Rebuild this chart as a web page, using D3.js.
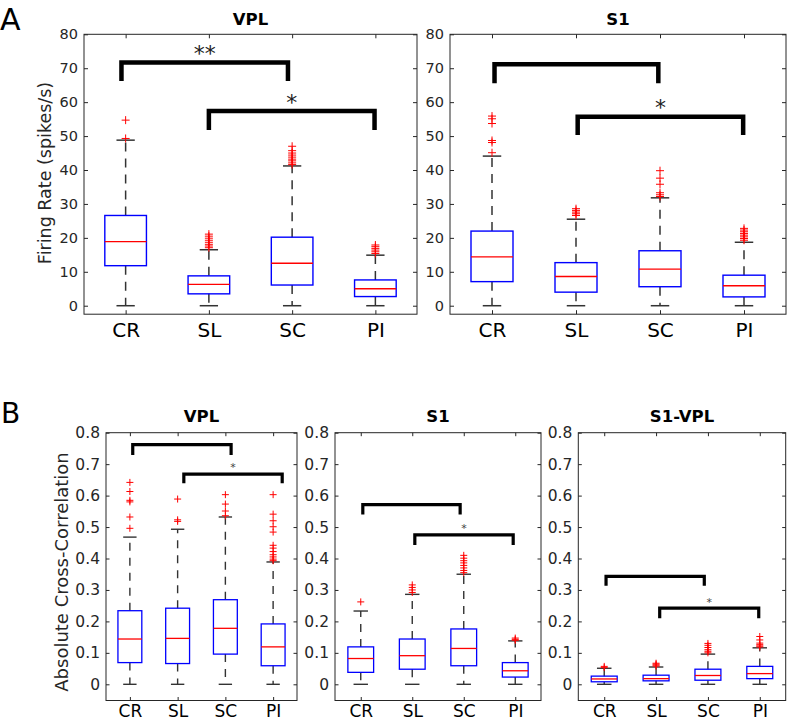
<!DOCTYPE html>
<html><head><meta charset="utf-8">
<script src="https://cdn.jsdelivr.net/npm/d3@7"></script>
<style>
body{margin:0;background:#fff}
svg{display:block}
text{font-family:"DejaVu Sans","Liberation Sans",Arial,sans-serif}
</style>
</head><body>
<svg id="c" width="787" height="720"></svg>
<script>
// ---------------- DATA ----------------
const categories = ["CR", "SL", "SC", "PI"];
const firingTicks = [0, 10, 20, 30, 40, 50, 60, 70, 80];
const corrTicks = [0, 0.1, 0.2, 0.3, 0.4, 0.5, 0.6, 0.7, 0.8];

// Panel A – VPL firing rate (spikes/s)
const aVplLow = [0, 0, 0, 0];
const aVplQ1 = [11.8, 3.5, 6.1, 2.7];
const aVplMedian = [18.9, 6.3, 12.5, 5.0];
const aVplQ3 = [26.6, 8.8, 20.2, 7.6];
const aVplHigh = [48.8, 16.5, 41.2, 14.9];
const aVplOutliers = [
  [49.3, 54.7],
  [17.1, 17.6, 18.1, 18.7, 19.3, 19.9, 20.5, 21.1],
  [41.6, 42.1, 42.7, 43.2, 43.8, 44.4, 45.0, 45.7, 47.0],
  [15.4, 15.9, 16.4, 16.9, 17.4, 17.9]
];
const aVplBrackets = [
  {from: 0.95, to: 2.95, top: 71.7, foot: 66.2, label: "**", labelAt: 75.4},
  {from: 2.0, to: 3.99, top: 57.4, foot: 51.8, label: "*", labelAt: 61.0}
];

// Panel A – S1 firing rate (spikes/s)
const aS1Low = [0, 0, 0, 0];
const aS1Q1 = [7.1, 4.0, 5.6, 2.6];
const aS1Median = [14.4, 8.6, 10.8, 5.9];
const aS1Q3 = [22.0, 12.7, 16.2, 9.0];
const aS1High = [44.1, 25.5, 31.8, 18.7];
const aS1Outliers = [
  [45.1, 48.1, 48.7, 53.7, 55.1, 55.9],
  [26.6, 27.1, 27.6, 28.1, 28.6],
  [32.2, 32.7, 33.3, 35.8, 37.6, 39.8],
  [19.3, 19.8, 20.3, 20.8, 21.3, 21.8, 22.3, 22.8]
];
const aS1Brackets = [
  {from: 1.03, to: 2.98, top: 71.2, foot: 65.6, label: "", labelAt: 0},
  {from: 2.02, to: 3.99, top: 55.7, foot: 50.3, label: "*", labelAt: 59.6}
];

// Panel B – VPL absolute cross-correlation
const bVplLow = [0, 0, 0, 0];
const bVplQ1 = [0.069, 0.066, 0.096, 0.059];
const bVplMedian = [0.144, 0.146, 0.178, 0.119];
const bVplQ3 = [0.234, 0.242, 0.269, 0.192];
const bVplHigh = [0.468, 0.493, 0.532, 0.389];
const bVplOutliers = [
  [0.496, 0.532, 0.580, 0.585, 0.613, 0.642],
  [0.518, 0.523, 0.589],
  [0.536, 0.551, 0.573, 0.603],
  [0.393, 0.398, 0.405, 0.412, 0.422, 0.433, 0.442, 0.484, 0.501, 0.520, 0.541, 0.603]
];
const bVplBrackets = [
  {from: 1.06, to: 3.12, top: 0.762, foot: 0.729, label: "", labelAt: 0},
  {from: 2.13, to: 4.19, top: 0.668, foot: 0.639, label: "*", labelAt: 0.697}
];

// Panel B – S1 absolute cross-correlation
const bS1Low = [0, 0, 0, 0];
const bS1Q1 = [0.038, 0.048, 0.059, 0.023];
const bS1Median = [0.082, 0.091, 0.114, 0.043];
const bS1Q3 = [0.119, 0.144, 0.176, 0.069];
const bS1High = [0.233, 0.286, 0.350, 0.138];
const bS1Outliers = [
  [0.262],
  [0.292, 0.300, 0.308, 0.316],
  [0.355, 0.362, 0.370, 0.378, 0.386, 0.393, 0.401, 0.410],
  [0.140, 0.143, 0.147]
];
const bS1Brackets = [
  {from: 1.04, to: 2.93, top: 0.571, foot: 0.540, label: "", labelAt: 0},
  {from: 2.05, to: 3.96, top: 0.475, foot: 0.443, label: "*", labelAt: 0.501}
];

// Panel B – S1-VPL absolute cross-correlation
const bS1VplLow = [0, 0, 0, 0];
const bS1VplQ1 = [0.008, 0.011, 0.013, 0.018];
const bS1VplMedian = [0.017, 0.018, 0.028, 0.034];
const bS1VplQ3 = [0.026, 0.029, 0.048, 0.057];
const bS1VplHigh = [0.051, 0.055, 0.096, 0.116];
const bS1VplOutliers = [
  [0.053, 0.057],
  [0.058, 0.061, 0.064, 0.067],
  [0.100, 0.105, 0.110, 0.117, 0.124, 0.130],
  [0.119, 0.122, 0.126, 0.131, 0.141, 0.152]
];
const bS1VplBrackets = [
  {from: 1.035, to: 2.93, top: 0.343, foot: 0.313, label: "", labelAt: 0},
  {from: 2.07, to: 3.98, top: 0.242, foot: 0.210, label: "*", labelAt: 0.268}
];

// ---------------- DRAWING ----------------
const svg = d3.select("#c");
const AX = "#262626";

function buildRows(low, q1, med, q3, high, outl) {
  return categories.map((c, i) => ({i: i + 1, c, low: low[i], q1: q1[i], med: med[i], q3: q3[i], high: high[i], out: outl[i]}));
}

function drawPanel(cfg, rows, brackets) {
  const g = svg.append("g");
  const x = d3.scaleLinear().domain([0.5, 4.5]).range([cfg.left, cfg.right]);
  const y = d3.scaleLinear().domain(cfg.yDomain).range([cfg.bottom, cfg.top]);
  const bw = x(1 + cfg.boxW / 2) - x(1);
  const cw = x(1 + cfg.capW / 2) - x(1);

  // whiskers
  const wg = g.append("g").attr("stroke", "#333").attr("stroke-width", cfg.wLw).attr("fill", "none");
  rows.forEach(r => {
    wg.append("line").attr("x1", x(r.i)).attr("x2", x(r.i)).attr("y1", y(r.q3)).attr("y2", y(r.high))
      .attr("stroke-dasharray", cfg.dash);
    wg.append("line").attr("x1", x(r.i)).attr("x2", x(r.i)).attr("y1", y(r.q1)).attr("y2", y(r.low))
      .attr("stroke-dasharray", cfg.dash);
    wg.append("line").attr("x1", x(r.i) - cw).attr("x2", x(r.i) + cw).attr("y1", y(r.high)).attr("y2", y(r.high));
    wg.append("line").attr("x1", x(r.i) - cw).attr("x2", x(r.i) + cw).attr("y1", y(r.low)).attr("y2", y(r.low));
  });
  // boxes
  g.append("g").selectAll("rect").data(rows).join("rect")
    .attr("x", r => x(r.i) - bw).attr("width", 2 * bw)
    .attr("y", r => y(r.q3)).attr("height", r => y(r.q1) - y(r.q3))
    .attr("fill", "none").attr("stroke", "#0000ff").attr("stroke-width", cfg.boxLw);
  // medians
  g.append("g").selectAll("line").data(rows).join("line")
    .attr("x1", r => x(r.i) - bw).attr("x2", r => x(r.i) + bw)
    .attr("y1", r => y(r.med)).attr("y2", r => y(r.med))
    .attr("stroke", "#ff0000").attr("stroke-width", cfg.boxLw);
  // outliers
  const pts = [];
  rows.forEach(r => r.out.forEach(v => pts.push({i: r.i, v})));
  const m = cfg.marker;
  g.append("g").selectAll("path").data(pts).join("path")
    .attr("d", p => `M${x(p.i) - m},${y(p.v)}H${x(p.i) + m}M${x(p.i)},${y(p.v) - m}V${y(p.v) + m}`)
    .attr("stroke", "#ff0000").attr("stroke-width", 1).attr("fill", "none");
  // brackets
  brackets.forEach(b => {
    g.append("path")
      .attr("d", `M${x(b.from)},${y(b.foot)}V${y(b.top)}H${x(b.to)}V${y(b.foot)}`)
      .attr("fill", "none").attr("stroke", "#000").attr("stroke-width", cfg.brLw)
      .attr("stroke-linejoin", "miter").attr("stroke-linecap", "butt");
    if (b.label) {
      g.append("text").attr("x", (x(b.from) + x(b.to)) / 2).attr("y", y(b.labelAt) + cfg.starFont * 0.5)
        .attr("text-anchor", "middle").attr("font-size", cfg.starFont).attr("fill", cfg.starColor)
        .text(b.label);
    }
  });

  // axes
  const fmt = cfg.fmt;
  const left = g.append("g").attr("transform", `translate(${cfg.left},0)`)
    .call(d3.axisLeft(y).tickValues(cfg.ticks).tickFormat(fmt).tickSizeInner(-cfg.tick).tickSizeOuter(0).tickPadding(cfg.yPad));
  const right = g.append("g").attr("transform", `translate(${cfg.right},0)`)
    .call(d3.axisRight(y).tickValues(cfg.ticks).tickFormat("").tickSizeInner(-cfg.tick).tickSizeOuter(0));
  const top = g.append("g").attr("transform", `translate(0,${cfg.top})`)
    .call(d3.axisTop(x).tickValues([1, 2, 3, 4]).tickFormat("").tickSizeInner(-cfg.tick).tickSizeOuter(0));
  const bottom = g.append("g").attr("transform", `translate(0,${cfg.bottom})`)
    .call(d3.axisBottom(x).tickValues([1, 2, 3, 4]).tickFormat(i => categories[i - 1])
      .tickSizeInner(-cfg.tick).tickSizeOuter(0).tickPadding(cfg.xPad));
  [left, right, top, bottom].forEach(a => {
    a.select(".domain").remove();
    a.selectAll(".tick line").attr("stroke", AX);
    a.selectAll("text").attr("fill", AX);
    a.attr("font-family", null).attr("font-size", null);
  });
  left.selectAll("text").attr("font-size", cfg.yFont);
  bottom.selectAll("text").attr("font-size", cfg.xFont).attr("fill", "#000");

  g.append("rect").attr("x", cfg.left).attr("y", cfg.top)
    .attr("width", cfg.right - cfg.left).attr("height", cfg.bottom - cfg.top)
    .attr("fill", "none").attr("stroke", AX).attr("stroke-width", 1);

  g.append("text").attr("x", (cfg.left + cfg.right) / 2).attr("y", cfg.titleY)
    .attr("text-anchor", "middle").attr("font-weight", "bold").attr("font-size", cfg.titleFont)
    .attr("fill", "#000").text(cfg.title);
}

const fmtInt = d3.format("d");
const fmtCorr = v => v === 0 ? "0" : d3.format(".1f")(v);

const rowA = {top: 34.3, bottom: 314.2, yDomain: [-2.5, 80], ticks: firingTicks, fmt: fmtInt,
  boxW: 0.5, capW: 0.22, marker: 4, boxLw: 1.4, wLw: 1.5, dash: "9,7", brLw: 4.5,
  starFont: 22, starColor: "#222", tick: 4, yPad: 6, yFont: 14.5, xFont: 20, xPad: 8.5,
  titleY: 25, titleFont: 16.5};
const rowB = {top: 432.7, bottom: 700.5, yDomain: [-0.0515, 0.8], ticks: corrTicks, fmt: fmtCorr,
  boxW: 0.5, capW: 0.28, marker: 3.5, boxLw: 1.3, wLw: 1.4, dash: "8,7", brLw: 3.2,
  starFont: 11, starColor: "#444", tick: 3.5, yPad: 6, yFont: 15.5, xFont: 17, xPad: 4,
  titleY: 421.5, titleFont: 16.5};

drawPanel(Object.assign({}, rowA, {left: 84, right: 417, title: "VPL"}),
  buildRows(aVplLow, aVplQ1, aVplMedian, aVplQ3, aVplHigh, aVplOutliers), aVplBrackets);
drawPanel(Object.assign({}, rowA, {left: 450, right: 786, title: "S1"}),
  buildRows(aS1Low, aS1Q1, aS1Median, aS1Q3, aS1High, aS1Outliers), aS1Brackets);
drawPanel(Object.assign({}, rowB, {left: 106, right: 297, title: "VPL"}),
  buildRows(bVplLow, bVplQ1, bVplMedian, bVplQ3, bVplHigh, bVplOutliers), bVplBrackets);
drawPanel(Object.assign({}, rowB, {left: 335, right: 541, title: "S1"}),
  buildRows(bS1Low, bS1Q1, bS1Median, bS1Q3, bS1High, bS1Outliers), bS1Brackets);
drawPanel(Object.assign({}, rowB, {left: 578.3, right: 785.7, title: "S1-VPL"}),
  buildRows(bS1VplLow, bS1VplQ1, bS1VplMedian, bS1VplQ3, bS1VplHigh, bS1VplOutliers), bS1VplBrackets);

// y-axis titles and panel letters
svg.append("text").attr("transform", "translate(51,173) rotate(-90)")
  .attr("text-anchor", "middle").attr("font-size", 17.5).attr("fill", AX).text("Firing Rate (spikes/s)");
svg.append("text").attr("transform", "translate(68,572) rotate(-90)")
  .attr("text-anchor", "middle").attr("font-size", 18).attr("fill", AX).text("Absolute Cross-Correlation");
svg.append("text").attr("x", 0).attr("y", 30).attr("font-size", 30).attr("fill", "#000").text("A");
svg.append("text").attr("x", 1).attr("y", 423).attr("font-size", 28).attr("fill", "#000").text("B");
</script>
</body></html>
